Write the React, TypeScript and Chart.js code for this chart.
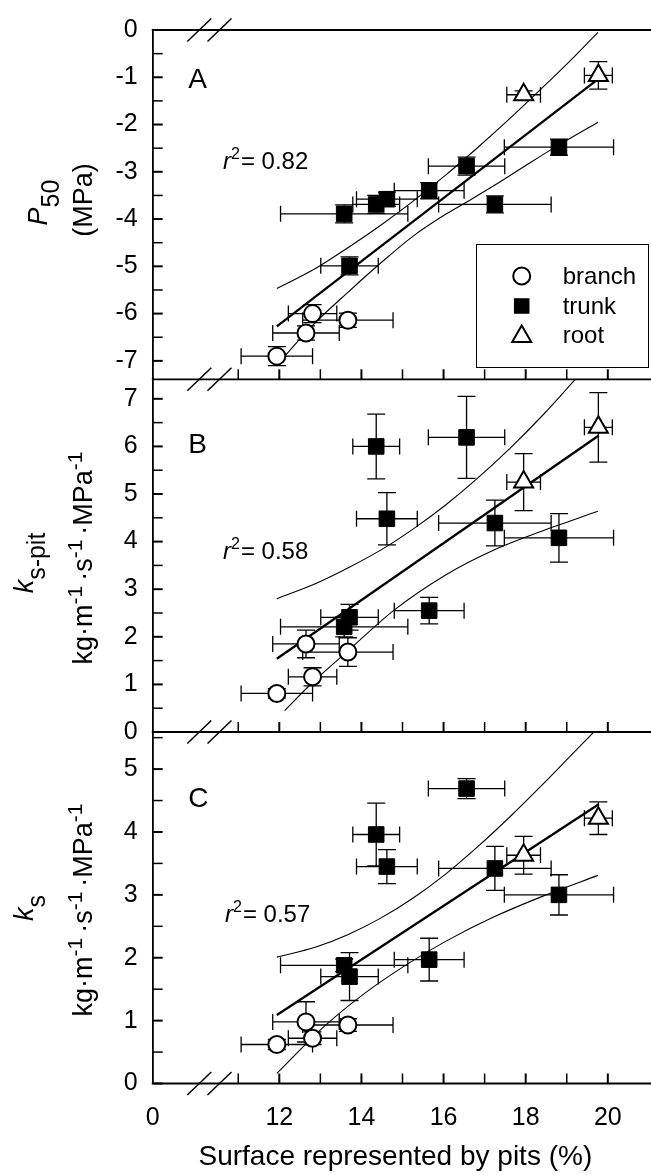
import React, { useEffect, useRef } from 'react';
import { Chart, registerables } from 'chart.js';

Chart.register(...registerables);

const W = 651;
const H = 1175;
const FONT = '"Liberation Sans", Arial, Helvetica, sans-serif';

// ---------- x axis (broken: "0" sits at the left edge) ----------
const X_MIN = 8.917;
const X_MAX = 20.735;
const X_TICK_VALUES = [8.917, 12, 14, 16, 18, 20];
const X_TICK_LABELS = ['0', '12', '14', '16', '18', '20'];
const X_MARK_TICKS = [11, 12, 13, 14, 15, 16, 17, 18, 19, 20];
const X_TITLE = 'Surface represented by pits (%)';

// ---------- sample x values (same in every panel) ----------
const BRANCH_X = [11.94, 12.65, 12.81, 13.67];
const BRANCH_XERR = [0.87, 0.81, 0.59, 1.1];
const TRUNK_X = [13.58, 13.71, 14.36, 14.62, 15.65, 16.56, 17.25, 18.81];
const TRUNK_XERR = [1.55, 0.7, 0.57, 0.74, 0.85, 0.93, 1.37, 1.33];
const ROOT_X = [17.95, 19.77];
const ROOT_XERR = [0.41, 0.34];

// ---------- panel A : P50 ----------
const P50_TICKS = [0, -1, -2, -3, -4, -5, -6, -7];
const P50_BRANCH = [-6.9, -6.41, -6.0, -6.14];
const P50_BRANCH_ERR = [0.2, 0.15, 0.19, 0.15];
const P50_TRUNK = [-3.89, -4.99, -3.69, -3.58, -3.4, -2.88, -3.69, -2.48];
const P50_TRUNK_ERR = [0.19, 0.19, 0.19, 0.15, 0.17, 0.19, 0.18, 0.17];
const P50_ROOT = [-1.37, -0.96];
const P50_ROOT_ERR = [0.08, 0.29];
const P50_FIT_X = [11.94, 19.7];
const P50_FIT_Y = [-6.27, -1.08];
const P50_UP_X = [11.94, 12.89, 13.68, 14.47, 15.26, 16.05, 16.84, 17.63, 18.42, 19.21, 19.76];
const P50_UP_Y = [-5.47, -5.04, -4.6, -4.13, -3.62, -3.07, -2.48, -1.86, -1.21, -0.54, -0.05];
const P50_LO_X = [11.98, 12.81, 13.67, 14.47, 15.26, 16.05, 16.64, 17.25, 18.03, 18.81, 19.76];
const P50_LO_Y = [-7.05, -6.25, -5.55, -4.93, -4.36, -3.9, -3.6, -3.28, -2.85, -2.43, -1.95];

// ---------- panel B : ks-pit ----------
const KSPIT_TICKS = [0, 1, 2, 3, 4, 5, 6, 7];
const KSPIT_BRANCH = [0.81, 1.85, 1.16, 1.68];
const KSPIT_BRANCH_ERR = [0.1, 0.29, 0.19, 0.3];
const KSPIT_TRUNK = [2.21, 2.41, 6.0, 4.48, 2.55, 6.19, 4.39, 4.08];
const KSPIT_TRUNK_ERR = [0.21, 0.27, 0.68, 0.55, 0.28, 0.86, 0.48, 0.51];
const KSPIT_ROOT = [5.25, 6.4];
const KSPIT_ROOT_ERR = [0.6, 0.73];
const KSPIT_FIT_X = [11.94, 19.78];
const KSPIT_FIT_Y = [1.54, 6.23];
const KSPIT_UP_X = [11.94, 12.89, 13.68, 14.62, 15.35, 16.05, 16.76, 17.63, 18.42, 19.25];
const KSPIT_UP_Y = [2.8, 3.12, 3.45, 3.9, 4.32, 4.77, 5.28, 5.97, 6.66, 7.45];
const KSPIT_LO_X = [12.13, 12.81, 13.68, 14.78, 16.05, 17.24, 18.42, 19.21, 19.76];
const KSPIT_LO_Y = [0.45, 1.04, 1.71, 2.55, 3.3, 3.83, 4.23, 4.47, 4.64];

// ---------- panel C : ks ----------
const KS_TICKS = [0, 1, 2, 3, 4, 5];
const KS_BRANCH = [0.62, 0.98, 0.72, 0.93];
const KS_BRANCH_ERR = [0.08, 0.32, 0.1, 0.1];
const KS_TRUNK = [1.88, 1.7, 3.96, 3.45, 1.97, 4.69, 3.42, 3.0];
const KS_TRUNK_ERR = [0.1, 0.38, 0.5, 0.27, 0.34, 0.16, 0.35, 0.32];
const KS_ROOT = [3.63, 4.22];
const KS_ROOT_ERR = [0.3, 0.26];
const KS_FIT_X = [11.94, 19.78];
const KS_FIT_Y = [1.09, 4.44];
const KS_UP_X = [11.94, 12.89, 13.68, 14.47, 15.26, 16.05, 16.84, 17.63, 18.42, 19.21, 19.72];
const KS_UP_Y = [2.01, 2.17, 2.37, 2.63, 2.95, 3.33, 3.77, 4.25, 4.76, 5.29, 5.63];
const KS_LO_X = [11.94, 13.08, 14.07, 15.1, 16.05, 17.23, 18.42, 19.76];
const KS_LO_Y = [0.16, 0.9, 1.43, 1.89, 2.26, 2.65, 2.98, 3.31];

const R2_LABELS = ['= 0.82', '= 0.58', '= 0.57'];
const LEGEND_LABELS = ['branch', 'trunk', 'root'];

type Seg = { t: string; size: number; italic?: boolean; dy?: number; gap?: number };

const UNIT_SEGS: Seg[] = [
  { t: 'kg·m', size: 27 },
  { t: '-1', size: 21, dy: -10, gap: 5 },
  { t: '·s', size: 27 },
  { t: '-1', size: 21, dy: -10, gap: 5 },
  { t: '·MPa', size: 27 },
  { t: '-1', size: 21, dy: -10 },
];

const PANELS = [
  {
    key: 'A', top: 27.7, bottom: 379.3, yMin: -7.39, yMax: 0, yTicks: P50_TICKS,
    branch: P50_BRANCH, branchErr: P50_BRANCH_ERR, trunk: P50_TRUNK, trunkErr: P50_TRUNK_ERR,
    root: P50_ROOT, rootErr: P50_ROOT_ERR,
    fit: [P50_FIT_X, P50_FIT_Y], up: [P50_UP_X, P50_UP_Y], lo: [P50_LO_X, P50_LO_Y],
    r2: R2_LABELS[0], r2X: 223, r2Y: 168.5, letterY: 88.3,
    title1: { segs: [{ t: 'P', size: 27, italic: true }, { t: '50', size: 25, dy: 12 }] as Seg[], x: 47, y: 202.5 },
    title2: { segs: [{ t: '(MPa)', size: 27 }] as Seg[], x: 92, y: 200 },
    legend: true, drawTop: true, bottomAxis: false,
  },
  {
    key: 'B', top: 379.3, bottom: 732, yMin: 0, yMax: 7.41, yTicks: KSPIT_TICKS,
    branch: KSPIT_BRANCH, branchErr: KSPIT_BRANCH_ERR, trunk: KSPIT_TRUNK, trunkErr: KSPIT_TRUNK_ERR,
    root: KSPIT_ROOT, rootErr: KSPIT_ROOT_ERR,
    fit: [KSPIT_FIT_X, KSPIT_FIT_Y], up: [KSPIT_UP_X, KSPIT_UP_Y], lo: [KSPIT_LO_X, KSPIT_LO_Y],
    r2: R2_LABELS[1], r2X: 223, r2Y: 558.5, letterY: 453.3,
    title1: { segs: [{ t: 'k', size: 27, italic: true }, { t: 's-pit', size: 25, dy: 12 }] as Seg[], x: 33, y: 563 },
    title2: { segs: UNIT_SEGS, x: 92, y: 558 },
    legend: false, drawTop: false, bottomAxis: false,
  },
  {
    key: 'C', top: 732, bottom: 1083.5, yMin: 0, yMax: 5.59, yTicks: KS_TICKS,
    branch: KS_BRANCH, branchErr: KS_BRANCH_ERR, trunk: KS_TRUNK, trunkErr: KS_TRUNK_ERR,
    root: KS_ROOT, rootErr: KS_ROOT_ERR,
    fit: [KS_FIT_X, KS_FIT_Y], up: [KS_UP_X, KS_UP_Y], lo: [KS_LO_X, KS_LO_Y],
    r2: R2_LABELS[2], r2X: 225, r2Y: 921.8, letterY: 806.5,
    title1: { segs: [{ t: 'k', size: 27, italic: true }, { t: 's', size: 25, dy: 12 }] as Seg[], x: 33, y: 908 },
    title2: { segs: UNIT_SEGS, x: 92, y: 910 },
    legend: false, drawTop: false, bottomAxis: true,
  },
];

function fontOf(s: Seg) {
  return `${s.italic ? 'italic ' : ''}${s.size}px ${FONT}`;
}

function drawRich(ctx: CanvasRenderingContext2D, segs: Seg[], x: number, y: number, rotate: boolean, center: boolean) {
  let total = 0;
  const widths = segs.map((s) => {
    ctx.font = fontOf(s);
    const w = ctx.measureText(s.t).width + (s.gap || 0);
    total += w;
    return w;
  });
  ctx.save();
  ctx.translate(x, y);
  if (rotate) ctx.rotate(-Math.PI / 2);
  ctx.textAlign = 'left';
  ctx.textBaseline = 'alphabetic';
  ctx.fillStyle = '#000';
  let cx = center ? -total / 2 : 0;
  segs.forEach((s, i) => {
    ctx.font = fontOf(s);
    ctx.fillText(s.t, cx, s.dy || 0);
    cx += widths[i];
  });
  ctx.restore();
}

const CIRCLE_R = 8.5;
const RECT_R = 11;
const TRI_R = 11;

function drawMarker(ctx: CanvasRenderingContext2D, kind: string, x: number, y: number) {
  ctx.save();
  ctx.strokeStyle = '#000';
  ctx.beginPath();
  if (kind === 'circle') {
    ctx.lineWidth = 2;
    ctx.fillStyle = '#fff';
    ctx.arc(x, y, CIRCLE_R, 0, Math.PI * 2);
    ctx.fill();
    ctx.stroke();
  } else if (kind === 'rect') {
    const s = RECT_R * Math.SQRT1_2;
    ctx.fillStyle = '#000';
    ctx.rect(x - s, y - s, 2 * s, 2 * s);
    ctx.fill();
  } else {
    const r = TRI_R;
    ctx.lineWidth = 2;
    ctx.fillStyle = '#fff';
    ctx.moveTo(x, y - r);
    ctx.lineTo(x + r * Math.sin((2 * Math.PI) / 3), y - r * Math.cos((2 * Math.PI) / 3));
    ctx.lineTo(x + r * Math.sin((4 * Math.PI) / 3), y - r * Math.cos((4 * Math.PI) / 3));
    ctx.closePath();
    ctx.fill();
    ctx.stroke();
  }
  ctx.restore();
}

function makeDecor(p: any) {
  return {
    id: 'decor' + p.key,
    beforeDatasetsDraw(chart: any) {
      const ctx = chart.ctx as CanvasRenderingContext2D;
      const xs = chart.scales.x;
      const ys = chart.scales.y;
      ctx.save();
      ctx.strokeStyle = '#000';
      ctx.lineWidth = 1.3;
      chart.data.datasets.forEach((ds: any) => {
        if (!ds.errX) return;
        ds.data.forEach((pt: any, i: number) => {
          const px = xs.getPixelForValue(pt.x);
          const py = ys.getPixelForValue(pt.y);
          const x1 = xs.getPixelForValue(pt.x - ds.errX[i]);
          const x2 = xs.getPixelForValue(pt.x + ds.errX[i]);
          const y1 = ys.getPixelForValue(pt.y - ds.errY[i]);
          const y2 = ys.getPixelForValue(pt.y + ds.errY[i]);
          ctx.beginPath();
          ctx.moveTo(x1, py); ctx.lineTo(x2, py);
          ctx.moveTo(x1, py - 8); ctx.lineTo(x1, py + 8);
          ctx.moveTo(x2, py - 8); ctx.lineTo(x2, py + 8);
          ctx.moveTo(px, y1); ctx.lineTo(px, y2);
          ctx.moveTo(px - 9, y1); ctx.lineTo(px + 9, y1);
          ctx.moveTo(px - 9, y2); ctx.lineTo(px + 9, y2);
          ctx.stroke();
        });
      });
      ctx.restore();
    },
    afterDraw(chart: any) {
      const ctx = chart.ctx as CanvasRenderingContext2D;
      const xs = chart.scales.x;
      const ys = chart.scales.y;
      const { left, top, bottom } = chart.chartArea;
      const right = chart.width;
      ctx.save();
      ctx.strokeStyle = '#000';
      ctx.lineCap = 'butt';
      const hline = (y: number) => {
        ctx.lineWidth = 1.8;
        ctx.beginPath();
        ctx.moveTo(left - 0.9, y);
        ctx.lineTo(right, y);
        ctx.stroke();
      };
      if (p.drawTop) hline(top);
      hline(bottom);
      // inward x ticks on the bottom line of each panel
      X_MARK_TICKS.forEach((v) => {
        const x = xs.getPixelForValue(v);
        ctx.lineWidth = v % 2 === 0 ? 2 : 1.5;
        ctx.beginPath();
        ctx.moveTo(x, bottom);
        ctx.lineTo(x, bottom - 10);
        ctx.stroke();
      });
      // inward y ticks every 0.5
      const start = Math.ceil(p.yMin * 2) / 2;
      for (let v = start; v <= p.yMax + 1e-9; v += 0.5) {
        const y = ys.getPixelForValue(v);
        ctx.lineWidth = Math.abs(v - Math.round(v)) < 1e-6 ? 2 : 1.5;
        ctx.beginPath();
        ctx.moveTo(left, y);
        ctx.lineTo(left + 10, y);
        ctx.stroke();
      }
      // axis break marks
      const breaks = p.drawTop ? [top, bottom] : [bottom];
      breaks.forEach((y: number) => {
        [46.6, 66.8].forEach((dx) => {
          const cx = left + dx;
          ctx.lineWidth = 1.5;
          ctx.beginPath();
          ctx.moveTo(cx - 12, y + 11.5);
          ctx.lineTo(cx + 12, y - 11.5);
          ctx.stroke();
        });
      });
      // panel letter
      ctx.fillStyle = '#000';
      ctx.font = `28px ${FONT}`;
      ctx.textAlign = 'left';
      ctx.textBaseline = 'alphabetic';
      ctx.fillText(p.key, left + 35.5, p.letterY);
      // r^2 annotation
      drawRich(ctx, [
        { t: 'r', size: 24, italic: true },
        { t: '2', size: 16, dy: -10, gap: 1 },
        { t: p.r2, size: 24 },
      ], p.r2X, p.r2Y, false, false);
      // y axis titles
      drawRich(ctx, p.title1.segs, p.title1.x, p.title1.y, true, true);
      drawRich(ctx, p.title2.segs, p.title2.x, p.title2.y, true, true);
      // legend
      if (p.legend) {
        ctx.lineWidth = 1;
        ctx.strokeStyle = '#000';
        ctx.strokeRect(476.5, 244.5, 172, 123);
        const kinds = ['circle', 'rect', 'triangle'];
        const ys2 = [276, 306, 335];
        kinds.forEach((k, i) => {
          drawMarker(ctx, k, 521.7, k === 'triangle' ? ys2[i] + 1.5 : ys2[i]);
          ctx.fillStyle = '#000';
          ctx.font = `24px ${FONT}`;
          ctx.textBaseline = 'middle';
          ctx.textAlign = 'left';
          ctx.fillText(LEGEND_LABELS[i], 562.7, ys2[i] + 1);
        });
      }
      ctx.restore();
    },
  };
}

function pts(xs: number[], ys: number[]) {
  return xs.map((x, i) => ({ x, y: ys[i] }));
}

function buildConfig(p: any): any {
  const datasets: any[] = [
    {
      label: 'branch', data: pts(BRANCH_X, p.branch), errX: BRANCH_XERR, errY: p.branchErr,
      pointStyle: 'circle', pointRadius: CIRCLE_R, pointBackgroundColor: '#fff', pointBorderColor: '#000',
      pointBorderWidth: 2, showLine: false, order: 0,
    },
    {
      label: 'trunk', data: pts(TRUNK_X, p.trunk), errX: TRUNK_XERR, errY: p.trunkErr,
      pointStyle: 'rect', pointRadius: RECT_R, pointBackgroundColor: '#000', pointBorderColor: '#000',
      pointBorderWidth: 1, showLine: false, order: 0,
    },
    {
      label: 'root', data: pts(ROOT_X, p.root), errX: ROOT_XERR, errY: p.rootErr,
      pointStyle: 'triangle', pointRadius: TRI_R, pointBackgroundColor: '#fff', pointBorderColor: '#000',
      pointBorderWidth: 2, showLine: false, order: 0,
    },
    {
      label: 'fit', data: pts(p.fit[0], p.fit[1]), showLine: true, pointRadius: 0,
      borderColor: '#000', borderWidth: 2.3, order: 1,
    },
    {
      label: 'upper', data: pts(p.up[0], p.up[1]), showLine: true, pointRadius: 0,
      borderColor: '#000', borderWidth: 1.1, cubicInterpolationMode: 'monotone', order: 1,
    },
    {
      label: 'lower', data: pts(p.lo[0], p.lo[1]), showLine: true, pointRadius: 0,
      borderColor: '#000', borderWidth: 1.1, cubicInterpolationMode: 'monotone', order: 1,
    },
  ];
  return {
    type: 'scatter',
    data: { datasets },
    plugins: [makeDecor(p)],
    options: {
      animation: false,
      responsive: false,
      maintainAspectRatio: false,
      devicePixelRatio: 1,
      events: [],
      layout: {
        padding: { top: p.top, bottom: p.bottomAxis ? 0 : H - p.bottom, left: 0, right: 0 },
      },
      plugins: { legend: { display: false }, tooltip: { enabled: false }, title: { display: false } },
      scales: {
        x: {
          type: 'linear',
          min: X_MIN,
          max: X_MAX,
          bounds: 'data',
          display: p.bottomAxis,
          grid: { display: false, drawTicks: false },
          border: { display: false },
          ticks: {
            autoSkip: false,
            maxRotation: 0,
            padding: 20,
            color: '#000',
            font: { size: 25, family: FONT },
            callback: (v: number) => {
              const i = X_TICK_VALUES.findIndex((t) => Math.abs(t - v) < 1e-6);
              return i >= 0 ? X_TICK_LABELS[i] : '';
            },
          },
          afterBuildTicks: (s: any) => {
            s.ticks = X_TICK_VALUES.map((v) => ({ value: v }));
          },
          afterFit: (s: any) => {
            if (p.bottomAxis) s.height = H - p.bottom;
          },
          title: {
            display: p.bottomAxis,
            text: X_TITLE,
            color: '#000',
            font: { size: 28, family: FONT },
            padding: { top: 0, bottom: 1 },
          },
        },
        y: {
          type: 'linear',
          min: p.yMin,
          max: p.yMax,
          bounds: 'data',
          grid: { display: false, drawTicks: false },
          border: { display: true, color: '#000', width: 1.8 },
          ticks: {
            autoSkip: false,
            padding: 15,
            color: '#000',
            font: { size: 25, family: FONT },
            callback: (v: number) => String(v),
          },
          afterBuildTicks: (s: any) => {
            s.ticks = p.yTicks.map((v: number) => ({ value: v }));
          },
          afterFit: (s: any) => {
            s.width = 152.7;
          },
        },
      },
    },
  };
}

export default function App() {
  const refA = useRef<HTMLCanvasElement>(null);
  const refB = useRef<HTMLCanvasElement>(null);
  const refC = useRef<HTMLCanvasElement>(null);

  useEffect(() => {
    const refs = [refA, refB, refC];
    const charts = PANELS.map((p, i) => new Chart(refs[i].current as HTMLCanvasElement, buildConfig(p)));
    return () => charts.forEach((c) => c.destroy());
  }, []);

  const cstyle: React.CSSProperties = { position: 'absolute', left: 0, top: 0, width: W, height: H };
  return (
    <div style={{ position: 'absolute', left: 0, top: 0, width: W, height: H, background: '#fff', overflow: 'hidden' }}>
      <canvas ref={refA} width={W} height={H} style={cstyle} />
      <canvas ref={refB} width={W} height={H} style={cstyle} />
      <canvas ref={refC} width={W} height={H} style={cstyle} />
    </div>
  );
}
